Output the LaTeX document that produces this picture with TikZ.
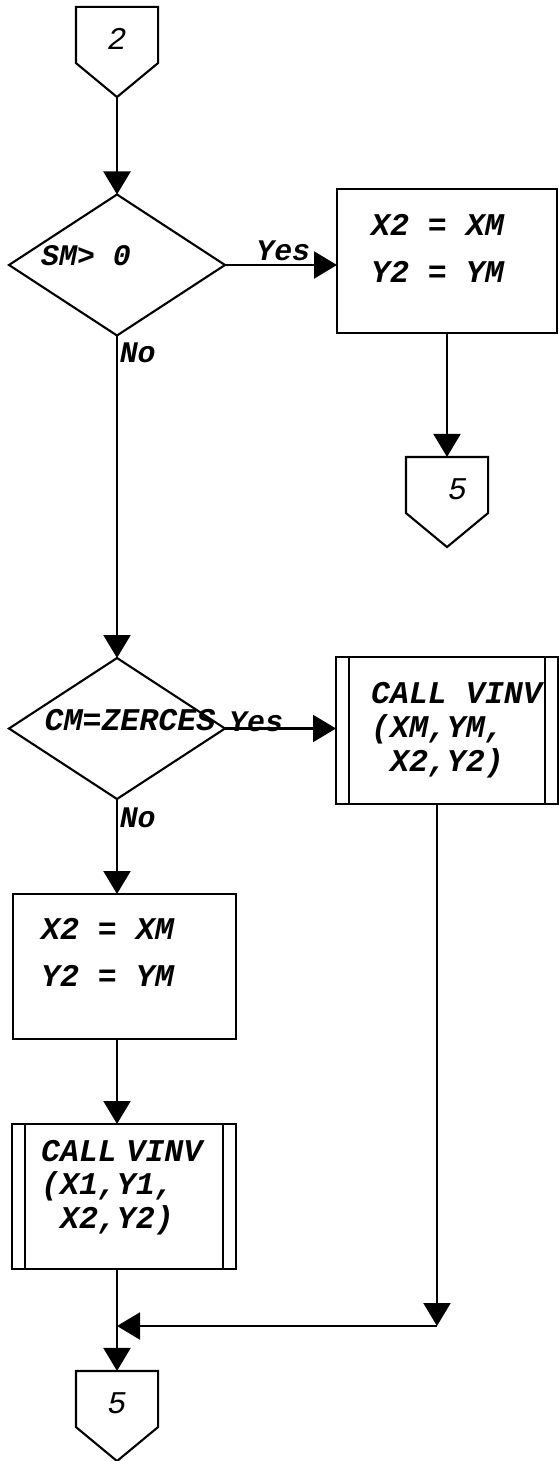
\documentclass[tikz,border=0pt]{standalone}
\usepackage{fontspec}
\setmonofont{Liberation Mono}
\usetikzlibrary{positioning,shapes,calc,arrows.meta}

% off-page connector: square part is the node, the point hangs below it
\newcommand{\offpage}[1]{%
  \draw (#1.south west) -- (#1.north west) -- (#1.north east) -- (#1.south east)
     -- ([yshift=-0.68cm]#1.south) coordinate (#1-tip) -- cycle;}

\begin{document}
\begin{tikzpicture}[line width=1.2pt,
    >={Triangle[length=0.46cm,width=0.54cm]},
    txt/.style={font=\ttfamily\bfseries\itshape\fontsize{18}{27}\selectfont},
    flag/.style={font=\ttfamily\bfseries\itshape\fontsize{17}{20}\selectfont,inner sep=1pt},
    lbl/.style={txt,align=left,inner sep=0,anchor=north west},
    conn node/.style={font=\ttfamily\itshape\fontsize{18}{20}\selectfont,minimum width=1.6cm,minimum height=1.08cm,inner sep=0,text height=0.6cm},
    dec node/.style={diamond,draw,minimum width=4.32cm,minimum height=2.82cm,inner sep=0,outer sep=0},
    box node/.style={rectangle,draw,minimum width=4.44cm,minimum height=2.9cm,inner sep=0,outer sep=0},
    sub node/.style={box node,path picture={
        \draw ([xshift=0.26cm]path picture bounding box.north west) -- ([xshift=0.26cm]path picture bounding box.south west)
              ([xshift=-0.26cm]path picture bounding box.north east) -- ([xshift=-0.26cm]path picture bounding box.south east);}}
  ]
  \useasboundingbox (0,0) rectangle (11.18,-29.22);

  \node[conn node] (c2) at (2.34,-0.70) {2};
  \node[dec node,label={[flag,inner sep=0,xshift=-0.62cm,yshift=0.18cm]center:SM> 0}] (d1) at (2.34,-5.30) {};
  \node[box node,minimum width=4.40cm,minimum height=2.88cm,
        label={[lbl,xshift=0.66cm,yshift=-0.48cm]north west:{X2 = XM\\Y2 = YM}}] (b1) at (8.94,-5.22) {};
  \node[conn node,text width=0.8cm,align=right] (c5a) at (8.94,-9.70) {5};

  \node[dec node,label={[txt,xshift=0.26cm,yshift=0.17cm]center:CM=ZERCES}] (d2) at (2.34,-14.57) {};
  \node[sub node,minimum height=2.94cm,
        label={[lbl,font=\ttfamily\bfseries\itshape\fontsize{18}{19.3}\selectfont,xshift=0.68cm,yshift=-0.48cm]north west:{CALL VINV\\(XM,YM,\\\phantom{(}X2,Y2)}}] (b2) at (8.94,-14.61) {};
  \node[box node,minimum width=4.46cm,
        label={[lbl,xshift=0.54cm,yshift=-0.46cm]north west:{X2 = XM\\Y2 = YM}}] (b3) at (2.49,-19.33) {};
  \node[sub node,minimum width=4.48cm,
        label={[lbl,font=\ttfamily\bfseries\itshape\fontsize{18}{19}\selectfont,xshift=0.56cm,yshift=-0.30cm]north west:{CALL\hspace{0.3em}VINV\\(X1,Y1,\\\phantom{(}X2,Y2)}}] (b4) at (2.48,-23.93) {};
  \node[conn node] (c5b) at (2.34,-27.98) {5};
  \coordinate (j) at (2.34,-26.52); % where the two branches meet

  \offpage{c2}
  \offpage{c5a}
  \offpage{c5b}

  \draw[->] (c2-tip) -- (d1.north);
  \draw[->] (d1.east) -- (d1.east -| b1.west) node[flag,pos=0.52,anchor=base,yshift=0.08cm] {Yes};
  \draw[->] (b1.south) -- (c5a.north);
  \draw[->] (d1.south) -- (d2.north) node[flag,at start,anchor=north west,yshift=-0.1cm] {No};
  \draw[->] (d2.east) -- (d2.east -| b2.west) node[flag,pos=0.28,anchor=base,yshift=-0.06cm] {Yes};
  \draw[->] (d2.south) -- (d2.south |- b3.north) node[flag,at start,anchor=north west,yshift=-0.12cm] {No};
  \draw[->] (b3.south -| d2.south) -- (b4.north -| d2.south);
  \draw[->] (b4.south -| j) -- (c5b.north);
  \draw[->] ([xshift=-0.2cm]b2.south) -- ([xshift=-0.2cm]b2.south |- j) coordinate (k);
  \draw[->] (k) -- (j);
\end{tikzpicture}
\end{document}
